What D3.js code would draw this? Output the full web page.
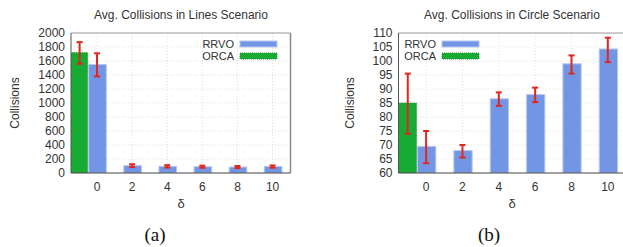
<!DOCTYPE html>
<html>
<head>
<meta charset="utf-8">
<script src="https://cdn.jsdelivr.net/npm/d3@7"></script>
<style>
body { margin: 0; background: #fff; }
svg text { font-family: "Liberation Sans", Arial, sans-serif; fill: #333; }
.caption { font-family: "Liberation Serif", "Times New Roman", serif; fill: #111; }
</style>
</head>
<body>
<svg id="chart" width="623" height="247"></svg>
<script>
// delta values on the x axis
const deltas = [0, 2, 4, 6, 8, 10];

// Lines scenario
const linesRrvo     = [1550, 105, 95, 90, 85, 92];
const linesRrvoLow  = [1380, 85, 78, 75, 70, 76];
const linesRrvoHigh = [1710, 125, 112, 105, 100, 108];
const linesOrca     = [1720];
const linesOrcaLow  = [1560];
const linesOrcaHigh = [1870];
const linesTicks    = [0, 200, 400, 600, 800, 1000, 1200, 1400, 1600, 1800, 2000];

// Circle scenario
const circleRrvo     = [69.5, 68, 86.5, 88, 99, 104.3];
const circleRrvoLow  = [63.5, 65.5, 84, 85.3, 95.5, 99.6];
const circleRrvoHigh = [75, 70, 88.8, 90.5, 102, 108.3];
const circleOrca     = [85];
const circleOrcaLow  = [74];
const circleOrcaHigh = [95.5];
const circleTicks    = [60, 65, 70, 75, 80, 85, 90, 95, 100, 105, 110];

const blue = "#7396e4", green = "#17ab33", red = "#e2261c";

let svg = d3.select("#chart");

function drawPanel(p) {
	let g = svg.append("g");
	let x = d3.scaleLinear().domain(p.xDomain).range([p.left, p.right]);
	let y = d3.scaleLinear().domain([p.yTicks[0], p.yTicks[p.yTicks.length - 1]]).range([173, 33]);
	let bw = 1.06; // bar width in delta units
	let orcaAt = -bw + 0.03; // ORCA sits just left of the delta 0 bar

	let clipId = "clip" + p.id;
	g.append("clipPath").attr("id", clipId).append("rect")
		.attr("x", p.left).attr("y", 0).attr("width", p.right - p.left).attr("height", 173);

	// grid
	g.selectAll(".hg").data(p.yTicks.slice(1, -1)).enter().append("line")
		.attr("x1", p.left).attr("x2", p.right)
		.attr("y1", d => y(d)).attr("y2", d => y(d))
		.attr("stroke", "#d8d8cc").attr("stroke-width", 0.8).attr("stroke-dasharray", "1,2");
	g.selectAll(".vg").data(deltas).enter().append("line")
		.attr("x1", d => x(d)).attr("x2", d => x(d))
		.attr("y1", 33).attr("y2", 173)
		.attr("stroke", "#d8d8cc").attr("stroke-width", 0.8).attr("stroke-dasharray", "1,2");

	let bars = g.append("g").attr("clip-path", "url(#" + clipId + ")");
	// ORCA bar next to delta 0
	bars.selectAll(".orca").data(p.orca).enter().append("rect")
		.attr("x", x(orcaAt - bw / 2) + 0.5).attr("width", x(bw) - x(0) - 1)
		.attr("y", d => y(d)).attr("height", d => 173 - y(d))
		.attr("fill", green).attr("stroke", "#2a9a3a").attr("stroke-dasharray", "1,1");
	// RRVO bars
	bars.selectAll(".rrvo").data(p.rrvo).enter().append("rect")
		.attr("x", (d, i) => x(deltas[i] - bw / 2 + 0.03) + 0.5).attr("width", x(bw) - x(0) - 1)
		.attr("y", d => y(d)).attr("height", d => 173 - y(d))
		.attr("fill", blue).attr("stroke", "#b4c6f0").attr("stroke-width", 1);

	// error bars
	let errs = [];
	p.orca.forEach((v, i) => errs.push({ cx: x(Math.max(orcaAt, (p.xDomain[0] + orcaAt + bw / 2) / 2)), lo: p.orcaLow[i], hi: p.orcaHigh[i] }));
	p.rrvo.forEach((v, i) => errs.push({ cx: x(deltas[i]), lo: p.rrvoLow[i], hi: p.rrvoHigh[i] }));
	let eg = g.selectAll(".err").data(errs).enter().append("g").attr("stroke", red).attr("stroke-width", 2);
	eg.append("line").attr("x1", d => d.cx).attr("x2", d => d.cx).attr("y1", d => y(d.lo)).attr("y2", d => y(d.hi));
	eg.append("line").attr("x1", d => d.cx - 3).attr("x2", d => d.cx + 3).attr("y1", d => y(d.lo)).attr("y2", d => y(d.lo));
	eg.append("line").attr("x1", d => d.cx - 3).attr("x2", d => d.cx + 3).attr("y1", d => y(d.hi)).attr("y2", d => y(d.hi));

	// frame
	g.append("line").attr("x1", p.left).attr("x2", p.right).attr("y1", 33).attr("y2", 33).attr("stroke", "#999");
	g.append("line").attr("x1", p.right).attr("x2", p.right).attr("y1", 33).attr("y2", 173).attr("stroke", "#888").attr("stroke-width", 1.5);
	g.append("line").attr("x1", p.left).attr("x2", p.left).attr("y1", 33).attr("y2", 173).attr("stroke", "#555");
	g.append("line").attr("x1", p.left).attr("x2", p.right).attr("y1", 173).attr("y2", 173).attr("stroke", "#444").attr("stroke-width", 1.2);

	// axes labels
	g.selectAll(".yt").data(p.yTicks).enter().append("text")
		.attr("x", p.left - 6).attr("y", d => y(d)).attr("dy", "0.35em")
		.attr("text-anchor", "end").attr("font-size", 12).text(d => d);
	g.selectAll(".xt").data(deltas).enter().append("text")
		.attr("x", d => x(d)).attr("y", 191)
		.attr("text-anchor", "middle").attr("font-size", 12).text(d => d);

	g.append("text").attr("x", p.titleX).attr("y", 19).attr("text-anchor", "middle")
		.attr("font-size", 12).text(p.title);
	g.append("text").attr("transform", "translate(" + (p.yLabelX) + ",103) rotate(-90)")
		.attr("text-anchor", "middle").attr("font-size", 12).text("Collisions");
	g.append("text").attr("x", p.titleX).attr("y", 208).attr("text-anchor", "middle")
		.attr("font-size", 13).text("δ");
	g.append("text").attr("class", "caption").attr("x", p.captionX).attr("y", 241)
		.attr("text-anchor", "middle").attr("font-size", 19).text(p.caption);

	// legend
	let legend = [{ name: "RRVO", fill: blue, stroke: "#b4c6f0", dash: null },
		{ name: "ORCA", fill: green, stroke: "#2a9a3a", dash: "1,1" }];
	let lg = g.selectAll(".lg").data(legend).enter().append("g")
		.attr("transform", (d, i) => "translate(" + p.legendX + "," + (44 + i * 12) + ")");
	lg.append("text").attr("x", 26).attr("dy", "0.35em").attr("text-anchor", "end")
		.attr("font-size", 11).text(d => d.name);
	lg.append("rect").attr("x", 32).attr("y", -3).attr("width", 37).attr("height", 6)
		.attr("fill", d => d.fill).attr("stroke", d => d.stroke).attr("stroke-dasharray", d => d.dash);
}

drawPanel({
	id: "a", xDomain: [-1.48, 11.02], left: 71, right: 290.5,
	yTicks: linesTicks, rrvo: linesRrvo, rrvoLow: linesRrvoLow, rrvoHigh: linesRrvoHigh,
	orca: linesOrca, orcaLow: linesOrcaLow, orcaHigh: linesOrcaHigh,
	title: "Avg. Collisions in Lines Scenario", titleX: 181, yLabelX: 19, captionX: 155, caption: "(a)",
	legendX: 208
});

drawPanel({
	id: "b", xDomain: [-1.52, 11], left: 398.5, right: 626,
	yTicks: circleTicks, rrvo: circleRrvo, rrvoLow: circleRrvoLow, rrvoHigh: circleRrvoHigh,
	orca: circleOrca, orcaLow: circleOrcaLow, orcaHigh: circleOrcaHigh,
	title: "Avg. Collisions in Circle Scenario", titleX: 512, yLabelX: 354, captionX: 489, caption: "(b)",
	legendX: 410
});
</script>
</body>
</html>
